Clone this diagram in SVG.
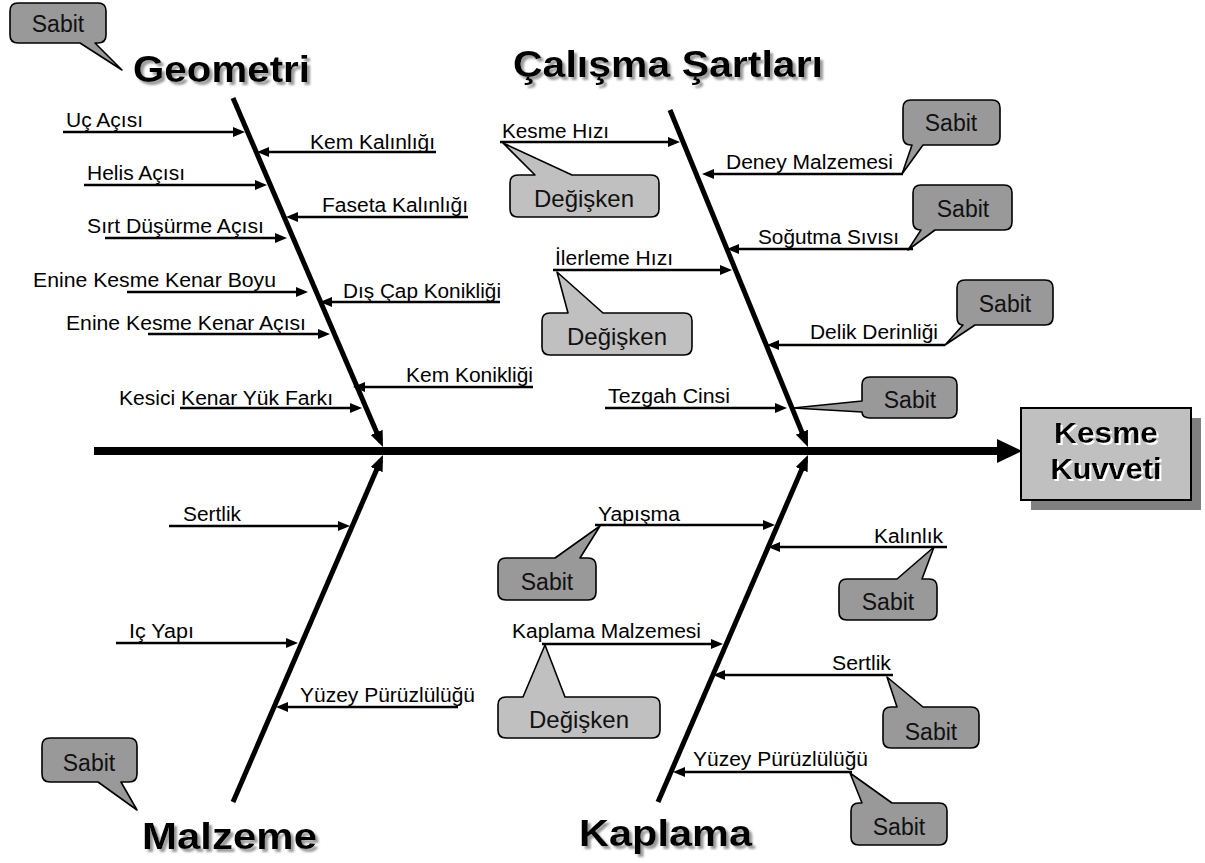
<svg xmlns="http://www.w3.org/2000/svg" width="1205" height="863" viewBox="0 0 1205 863">
<defs>
<style>
.lbl{font-family:"Liberation Sans",Arial,sans-serif;font-size:20px;fill:#000}
.ttl{font-family:"Liberation Sans",Arial,sans-serif;font-size:37px;font-weight:bold;fill:#000;filter:url(#tshadow)}
.co{font-family:"Liberation Sans",Arial,sans-serif;font-size:23px;fill:#111;text-anchor:middle}
.sabit{fill:#999999;stroke:#000;stroke-width:1.6;stroke-linejoin:round}
.deg{fill:#c0c0c0;stroke:#000;stroke-width:1.6;stroke-linejoin:round}
.br{stroke:#000;stroke-width:2.5;fill:none;marker-end:url(#ah)}
.bone{stroke:#000;stroke-width:5;fill:none;marker-end:url(#bh)}
.eff{font-family:"Liberation Sans",Arial,sans-serif;font-size:30px;font-weight:bold;fill:#000;text-anchor:middle;filter:url(#wshadow)}
</style>
<filter id="tshadow" x="-5%" y="-20%" width="115%" height="150%">
<feGaussianBlur in="SourceAlpha" stdDeviation="1.3"/>
<feOffset dx="3" dy="3" result="b"/>
<feFlood flood-color="#9a9a9a"/>
<feComposite in2="b" operator="in" result="s"/>
<feMerge><feMergeNode in="s"/><feMergeNode in="SourceGraphic"/></feMerge>
</filter>
<filter id="wshadow" x="-5%" y="-20%" width="115%" height="150%">
<feOffset in="SourceAlpha" dx="1.5" dy="1.5" result="b"/>
<feFlood flood-color="#ffffff"/>
<feComposite in2="b" operator="in" result="s"/>
<feMerge><feMergeNode in="s"/><feMergeNode in="SourceGraphic"/></feMerge>
</filter>
<marker id="ah" viewBox="0 0 12 10" refX="8" refY="5" markerWidth="12" markerHeight="10" markerUnits="userSpaceOnUse" orient="auto"><path d="M0,0 L12,5 L0,10 Z" fill="#000"/></marker>
<marker id="bh" viewBox="0 0 16 13" refX="10" refY="6.5" markerWidth="16" markerHeight="13" markerUnits="userSpaceOnUse" orient="auto"><path d="M0,0 L16,6.5 L0,13 Z" fill="#000"/></marker>
</defs>
<rect width="1205" height="863" fill="#fff"/>

<g id="connectors">
<line x1="94" y1="451" x2="1000" y2="451" stroke="#000" stroke-width="8"/>
<polygon points="997,439 1022,451 997,463" fill="#000"/>
<line class="bone" x1="233" y1="98" x2="380.6" y2="441.5"/>
<line class="bone" x1="670" y1="110" x2="805.7" y2="441.4"/>
<line class="bone" x1="233" y1="802" x2="380.6" y2="460.5"/>
<line class="bone" x1="658" y1="802" x2="805.6" y2="460.5"/>
<line class="br" x1="63" y1="132" x2="241" y2="132"/>
<line class="br" x1="436" y1="152" x2="261" y2="152"/>
<line class="br" x1="84" y1="185" x2="263" y2="185"/>
<line class="br" x1="468" y1="217" x2="290" y2="217"/>
<line class="br" x1="105" y1="238" x2="283" y2="238"/>
<line class="br" x1="127" y1="292" x2="304" y2="292"/>
<line class="br" x1="500" y1="302" x2="324" y2="302"/>
<line class="br" x1="148" y1="334" x2="326" y2="334"/>
<line class="br" x1="533" y1="387" x2="357" y2="387"/>
<line class="br" x1="180" y1="408" x2="358" y2="408"/>
<line class="br" x1="500" y1="142" x2="676" y2="142"/>
<line class="br" x1="903" y1="174" x2="706" y2="174"/>
<line class="br" x1="913" y1="249" x2="731" y2="249"/>
<line class="br" x1="553" y1="270" x2="728" y2="270"/>
<line class="br" x1="945" y1="345" x2="771" y2="345"/>
<line class="br" x1="605" y1="408" x2="783" y2="408"/>
<line class="br" x1="169" y1="526" x2="346" y2="526"/>
<line class="br" x1="116" y1="643" x2="294" y2="643"/>
<line class="br" x1="458" y1="707" x2="280" y2="707"/>
<line class="br" x1="595" y1="525" x2="771" y2="525"/>
<line class="br" x1="947" y1="547" x2="772" y2="547"/>
<line class="br" x1="542" y1="644" x2="719" y2="644"/>
<line class="br" x1="893" y1="675" x2="717" y2="675"/>
<line class="br" x1="852" y1="772" x2="677" y2="772"/>
</g>

<g id="effect">
<rect x="1031" y="418" width="170" height="92" fill="#808080"/>
<rect x="1021" y="408" width="170" height="92" fill="#c0c0c0" stroke="#000" stroke-width="2"/>
<text class="eff" x="1106" y="443" textLength="104" lengthAdjust="spacingAndGlyphs">Kesme</text>
<text class="eff" x="1106" y="479" textLength="111" lengthAdjust="spacingAndGlyphs">Kuvveti</text>
</g>

<g id="title-geometri"><text class="ttl" x="133" y="82" textLength="177" lengthAdjust="spacingAndGlyphs">Geometri</text></g>
<g id="title-calisma"><text class="ttl" x="513" y="77" textLength="310" lengthAdjust="spacingAndGlyphs">Çalışma Şartları</text></g>
<g id="title-malzeme"><text class="ttl" x="142" y="849" textLength="175" lengthAdjust="spacingAndGlyphs">Malzeme</text></g>
<g id="title-kaplama"><text class="ttl" x="579" y="846" textLength="173" lengthAdjust="spacingAndGlyphs">Kaplama</text></g>

<g id="geo-uc-acisi"><text class="lbl" x="66" y="127" textLength="77" lengthAdjust="spacingAndGlyphs">Uç Açısı</text></g>
<g id="geo-kem-kalinligi"><text class="lbl" x="310" y="149" textLength="125" lengthAdjust="spacingAndGlyphs">Kem Kalınlığı</text></g>
<g id="geo-helis-acisi"><text class="lbl" x="87" y="180" textLength="98" lengthAdjust="spacingAndGlyphs">Helis Açısı</text></g>
<g id="geo-faseta"><text class="lbl" x="322" y="212" textLength="146" lengthAdjust="spacingAndGlyphs">Faseta Kalınlığı</text></g>
<g id="geo-sirt"><text class="lbl" x="87" y="233" textLength="177" lengthAdjust="spacingAndGlyphs">Sırt Düşürme Açısı</text></g>
<g id="geo-enine-boyu"><text class="lbl" x="33" y="287" textLength="243" lengthAdjust="spacingAndGlyphs">Enine Kesme Kenar Boyu</text></g>
<g id="geo-dis-cap"><text class="lbl" x="343" y="298" textLength="158" lengthAdjust="spacingAndGlyphs">Dış Çap Konikliği</text></g>
<g id="geo-enine-acisi"><text class="lbl" x="66" y="330" textLength="240" lengthAdjust="spacingAndGlyphs">Enine Kesme Kenar Açısı</text></g>
<g id="geo-kem-konikligi"><text class="lbl" x="406" y="382" textLength="127" lengthAdjust="spacingAndGlyphs">Kem Konikliği</text></g>
<g id="geo-kesici"><text class="lbl" x="119" y="405" textLength="214" lengthAdjust="spacingAndGlyphs">Kesici Kenar Yük Farkı</text></g>

<g id="cal-kesme-hizi"><text class="lbl" x="502" y="138" textLength="107" lengthAdjust="spacingAndGlyphs">Kesme Hızı</text></g>
<g id="cal-deney"><text class="lbl" x="726" y="169" textLength="167" lengthAdjust="spacingAndGlyphs">Deney Malzemesi</text></g>
<g id="cal-sogutma"><text class="lbl" x="758" y="244" textLength="141" lengthAdjust="spacingAndGlyphs">Soğutma Sıvısı</text></g>
<g id="cal-ilerleme"><text class="lbl" x="555" y="265" textLength="118" lengthAdjust="spacingAndGlyphs">İlerleme Hızı</text></g>
<g id="cal-delik"><text class="lbl" x="810" y="339" textLength="128" lengthAdjust="spacingAndGlyphs">Delik Derinliği</text></g>
<g id="cal-tezgah"><text class="lbl" x="608" y="403" textLength="122" lengthAdjust="spacingAndGlyphs">Tezgah Cinsi</text></g>

<g id="mal-sertlik"><text class="lbl" x="183" y="521" textLength="58" lengthAdjust="spacingAndGlyphs">Sertlik</text></g>
<g id="mal-ic-yapi"><text class="lbl" x="129" y="638" textLength="65" lengthAdjust="spacingAndGlyphs">Iç Yapı</text></g>
<g id="mal-yuzey"><text class="lbl" x="300" y="702" textLength="175" lengthAdjust="spacingAndGlyphs">Yüzey Pürüzlülüğü</text></g>

<g id="kap-yapisma"><text class="lbl" x="598" y="521" textLength="82" lengthAdjust="spacingAndGlyphs">Yapışma</text></g>
<g id="kap-kalinlik"><text class="lbl" x="874" y="543" textLength="69" lengthAdjust="spacingAndGlyphs">Kalınlık</text></g>
<g id="kap-malzeme"><text class="lbl" x="512" y="638" textLength="189" lengthAdjust="spacingAndGlyphs">Kaplama Malzemesi</text></g>
<g id="kap-sertlik"><text class="lbl" x="832" y="670" textLength="59" lengthAdjust="spacingAndGlyphs">Sertlik</text></g>
<g id="kap-yuzey"><text class="lbl" x="693" y="766" textLength="175" lengthAdjust="spacingAndGlyphs">Yüzey Pürüzlülüğü</text></g>

<g id="callout-geometri">
<path class="sabit" d="M18,3 H98 Q106,3 106,11 V35 Q106,43 98,43 H95 L122,70 L80,43 H18 Q10,43 10,35 V11 Q10,3 18,3 Z"/>
<text class="co" x="58" y="32">Sabit</text>
</g>
<g id="callout-kesme-hizi">
<path class="deg" d="M518,175 H535 L503,143 L572,175 H651 Q659,175 659,183 V209 Q659,217 651,217 H518 Q510,217 510,209 V183 Q510,175 518,175 Z"/>
<text class="co" x="584" y="207" style="font-size:24px">Değişken</text>
</g>
<g id="callout-deney">
<path class="sabit" d="M911,100 H992 Q1000,100 1000,108 V137 Q1000,145 992,145 H923 L902,174 L912,145 H911 Q903,145 903,137 V108 Q903,100 911,100 Z"/>
<text class="co" x="951" y="131">Sabit</text>
</g>
<g id="callout-sogutma">
<path class="sabit" d="M921,185 H1004 Q1012,185 1012,193 V222 Q1012,230 1004,230 H935 L908,250 L921,230 Q913,230 913,222 V193 Q913,185 921,185 Z"/>
<text class="co" x="963" y="217">Sabit</text>
</g>
<g id="callout-delik">
<path class="sabit" d="M965,280 H1045 Q1053,280 1053,288 V317 Q1053,325 1045,325 H975 L945,345 L963,325 Q957,325 957,317 V288 Q957,280 965,280 Z"/>
<text class="co" x="1005" y="312">Sabit</text>
</g>
<g id="callout-tezgah">
<path class="sabit" d="M870,377 H949 Q957,377 957,385 V410 Q957,418 949,418 H870 Q862,418 862,412 L793,408 L862,401 V385 Q862,377 870,377 Z"/>
<text class="co" x="910" y="408">Sabit</text>
</g>
<g id="callout-ilerleme">
<path class="deg" d="M550,313 H568 L557,272 L603,313 H684 Q692,313 692,321 V347 Q692,355 684,355 H550 Q542,355 542,347 V321 Q542,313 550,313 Z"/>
<text class="co" x="617" y="345" style="font-size:24px">Değişken</text>
</g>
<g id="callout-yapisma">
<path class="sabit" d="M506,558 H555 L600,526 L580,558 H588 Q596,558 596,566 V592 Q596,600 588,600 H506 Q498,600 498,592 V566 Q498,558 506,558 Z"/>
<text class="co" x="547" y="590">Sabit</text>
</g>
<g id="callout-kalinlik">
<path class="sabit" d="M847,579 H897 L934,547 L922,579 H929 Q937,579 937,587 V612 Q937,620 929,620 H847 Q839,620 839,612 V587 Q839,579 847,579 Z"/>
<text class="co" x="888" y="610">Sabit</text>
</g>
<g id="callout-kaplama-malzemesi">
<path class="deg" d="M506,697 H523 L545,645 L565,697 H652 Q660,697 660,705 V730 Q660,738 652,738 H506 Q498,738 498,730 V705 Q498,697 506,697 Z"/>
<text class="co" x="579" y="728" style="font-size:24px">Değişken</text>
</g>
<g id="callout-sertlik">
<path class="sabit" d="M891,707 H897 L887,677 L923,707 H971 Q979,707 979,715 V740 Q979,748 971,748 H891 Q883,748 883,740 V715 Q883,707 891,707 Z"/>
<text class="co" x="931" y="740">Sabit</text>
</g>
<g id="callout-yuzey">
<path class="sabit" d="M859,803 H862 L850,773 L892,803 H939 Q947,803 947,811 V837 Q947,845 939,845 H859 Q851,845 851,837 V811 Q851,803 859,803 Z"/>
<text class="co" x="899" y="835">Sabit</text>
</g>
<g id="callout-malzeme">
<path class="sabit" d="M50,738 H129 Q137,738 137,746 V774 Q137,782 129,782 H121 L137,810 L98,782 H50 Q42,782 42,774 V746 Q42,738 50,738 Z"/>
<text class="co" x="89" y="771">Sabit</text>
</g>
</svg>
